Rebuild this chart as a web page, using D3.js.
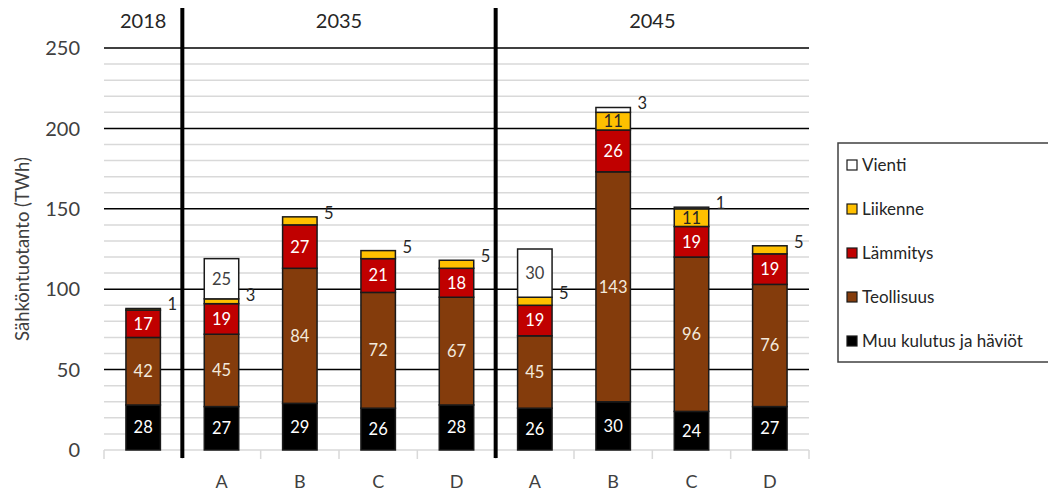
<!DOCTYPE html>
<html>
<head>
<meta charset="utf-8">
<script src="https://cdn.jsdelivr.net/npm/d3@7"></script>
<style>
  html, body { margin: 0; padding: 0; background: #fff; }
  svg { display: block; font-family: Lato, "Open Sans", sans-serif; }
</style>
</head>
<body>
<svg id="chart" width="1048" height="493"></svg>
<script>
// Scenario columns: one for 2018, four scenarios each for 2035 and 2045
const categories = ["2018", "A", "B", "C", "D", "A", "B", "C", "D"];
const yearGroups = [
  { label: "2018", from: 0, to: 1 },
  { label: "2035", from: 1, to: 5 },
  { label: "2045", from: 5, to: 9 }
];

// Electricity use by sector (TWh)
const muu        = [28, 27, 29, 26, 28, 26, 30, 24, 27];
const teollisuus = [42, 45, 84, 72, 67, 45, 143, 96, 76];
const lammitys   = [17, 19, 27, 21, 18, 19, 26, 19, 19];
const liikenne   = [1, 3, 5, 5, 5, 5, 11, 11, 5];
const vienti     = [0, 25, 0, 0, 0, 30, 3, 1, 0];

const yTicks = [0, 50, 100, 150, 200, 250];

const series = [
  { name: "Muu kulutus ja häviöt", values: muu,        fill: "#000000", text: "#ffffff" },
  { name: "Teollisuus",            values: teollisuus, fill: "#843c0c", text: "#f3e9dc" },
  { name: "Lämmitys",              values: lammitys,   fill: "#c00000", text: "#ffffff" },
  { name: "Liikenne",              values: liikenne,   fill: "#ffc000", text: "#262626" },
  { name: "Vienti",                values: vienti,     fill: "#ffffff", text: "#404040" }
];

const svg = d3.select("#chart");
const margin = { left: 104, right: 809, top: 48, bottom: 450 };

const x = d3.scaleBand()
  .domain(d3.range(categories.length))
  .range([margin.left, margin.right])
  .paddingInner(0.56)
  .paddingOuter(0.28);
const step = x.step();
// left edge of the i-th category slot (i may equal the category count)
const bandStart = i => margin.left + i * step;

const y = d3.scaleLinear().domain([0, 250]).range([margin.bottom, margin.top]);

// Minor gridlines every 10, major every 50
const grid = svg.append("g");
grid.selectAll("line.minor")
  .data(d3.range(10, 251, 10).filter(v => v % 50 !== 0))
  .join("line")
  .attr("x1", margin.left).attr("x2", margin.right)
  .attr("y1", d => y(d)).attr("y2", d => y(d))
  .attr("stroke", "#d9d9d9").attr("stroke-width", 1.5);
grid.selectAll("line.major")
  .data(yTicks.filter(v => v > 0))
  .join("line")
  .attr("x1", margin.left).attr("x2", margin.right)
  .attr("y1", d => y(d)).attr("y2", d => y(d))
  .attr("stroke", "#000").attr("stroke-width", 1.5);

// Category axis baseline with tick marks at band edges
const xAxis = svg.append("g");
xAxis.append("line")
  .attr("x1", margin.left).attr("x2", margin.right)
  .attr("y1", y(0)).attr("y2", y(0))
  .attr("stroke", "#d9d9d9").attr("stroke-width", 1.5);
xAxis.selectAll("line.tick")
  .data(d3.range(categories.length + 1))
  .join("line")
  .attr("x1", i => bandStart(i)).attr("x2", i => bandStart(i))
  .attr("y1", y(0)).attr("y2", y(0) + 9)
  .attr("stroke", "#d9d9d9").attr("stroke-width", 1.5);

xAxis.selectAll("text")
  .data(categories.map((c, i) => ({ c, i })).filter(d => d.i > 0))
  .join("text")
  .attr("x", d => x(d.i) + x.bandwidth() / 2)
  .attr("y", 488)
  .attr("text-anchor", "middle")
  .attr("font-size", 18)
  .attr("fill", "#404040")
  .text(d => d.c);

// Value axis labels
svg.append("g").selectAll("text")
  .data(yTicks)
  .join("text")
  .attr("x", 80)
  .attr("y", d => y(d))
  .attr("dy", "0.36em")
  .attr("text-anchor", "end")
  .attr("font-size", 20)
  .attr("fill", "#404040")
  .text(d => d);

svg.append("text")
  .attr("transform", `translate(29,${(y(0) + y(250)) / 2}) rotate(-90)`)
  .attr("text-anchor", "middle")
  .attr("font-size", 18.5)
  .attr("fill", "#404040")
  .text("Sähköntuotanto (TWh)");

// Stacked bars
const stacked = categories.map((c, i) => {
  let base = 0;
  return series.map(s => {
    const v = s.values[i];
    const seg = { i, v, y0: base, y1: base + v, s };
    base += v;
    return seg;
  }).filter(d => d.v > 0);
});
const segments = stacked.flat();

svg.append("g").selectAll("rect")
  .data(segments)
  .join("rect")
  .attr("x", d => x(d.i))
  .attr("width", x.bandwidth())
  .attr("y", d => y(d.y1))
  .attr("height", d => y(d.y0) - y(d.y1))
  .attr("fill", d => d.s.fill)
  .attr("stroke", "#1a1a1a")
  .attr("stroke-width", 1.5);

// Labels inside larger segments, beside the bar for small ones
svg.append("g").selectAll("text")
  .data(segments)
  .join("text")
  .attr("x", d => d.v >= 10 ? x(d.i) + x.bandwidth() / 2 : x(d.i) + x.bandwidth() + 7)
  .attr("y", d => d.v >= 10 ? y((d.y0 + d.y1) / 2) : y(d.y1) - 4)
  .attr("dy", "0.36em")
  .attr("text-anchor", d => d.v >= 10 ? "middle" : "start")
  .attr("font-size", 16.5)
  .attr("fill", d => d.v >= 10 ? d.s.text : "#262626")
  .text(d => d.v);

// Year separators and headers
const sep = svg.append("g");
sep.selectAll("line")
  .data(yearGroups.slice(1))
  .join("line")
  .attr("x1", d => bandStart(d.from)).attr("x2", d => bandStart(d.from))
  .attr("y1", 8).attr("y2", 458)
  .attr("stroke", "#000").attr("stroke-width", 4);
sep.selectAll("text")
  .data(yearGroups)
  .join("text")
  .attr("x", d => (bandStart(d.from) + bandStart(d.to)) / 2)
  .attr("y", 28)
  .attr("text-anchor", "middle")
  .attr("font-size", 20)
  .attr("fill", "#262626")
  .text(d => d.label);

// Legend, top entry first
const legend = svg.append("g");
legend.append("rect")
  .attr("x", 838).attr("y", 143)
  .attr("width", 220).attr("height", 219)
  .attr("fill", "#fff")
  .attr("stroke", "#404040").attr("stroke-width", 1.5);
const items = legend.selectAll("g.item")
  .data(series.slice().reverse())
  .join("g")
  .attr("transform", (d, k) => `translate(847,${165 + k * 44})`);
items.append("rect")
  .attr("x", 0).attr("y", -5)
  .attr("width", 10).attr("height", 10)
  .attr("fill", d => d.fill)
  .attr("stroke", "#1a1a1a").attr("stroke-width", 1.2);
items.append("text")
  .attr("x", 15).attr("y", 0)
  .attr("dy", "0.36em")
  .attr("font-size", 17)
  .attr("fill", "#262626")
  .text(d => d.name);
</script>
</body>
</html>
